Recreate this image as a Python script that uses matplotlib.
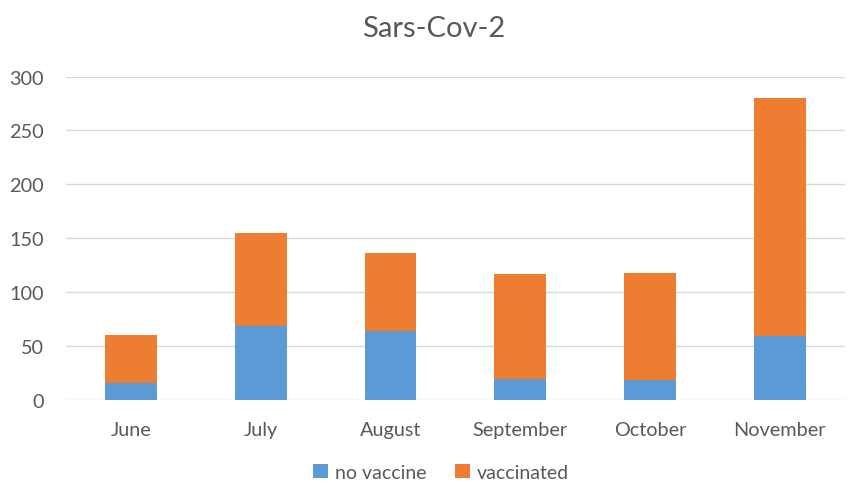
import matplotlib
matplotlib.use("Agg")
import matplotlib.pyplot as plt
import numpy as np

plt.rcParams['font.family'] = ['Lato', 'DejaVu Sans']

months = ['June', 'July', 'August', 'September', 'October', 'November']
no_vaccine = [15, 68, 64, 19, 18, 59]
vaccinated_total = [60, 155, 136, 117, 118, 280]
vaccinated = [t - n for t, n in zip(vaccinated_total, no_vaccine)]

fig = plt.figure(figsize=(8.48, 4.85), dpi=100)
ax = fig.add_axes([0.078, 0.174, 0.918, 0.666])

x = np.arange(len(months))
ax.bar(x, no_vaccine, width=0.4, color='#5B9BD5', label='no vaccine', zorder=3)
ax.bar(x, vaccinated, width=0.4, bottom=no_vaccine, color='#ED7D31',
       label='vaccinated', zorder=3)

ax.set_xlim(-0.5, len(months) - 0.5)
ax.set_ylim(0, 300)
ax.set_yticks(range(0, 301, 50))
ax.set_xticks(x)
ax.set_xticklabels(months)
ax.yaxis.grid(True, color='#d9d9d9', lw=1.0, zorder=0)
for s in ax.spines.values():
    s.set_visible(False)
ax.tick_params(axis='both', length=0, labelsize=14.3, colors='#595959')
ax.tick_params(axis='y', pad=16)
ax.tick_params(axis='x', pad=15.5)

fig.text(0.511, 0.94, 'Sars-Cov-2', ha='center', va='center', fontsize=21, color='#595959')
fig.legend(loc='center', bbox_to_anchor=(0.52, 0.024), ncol=2, frameon=False,
           fontsize=14, labelcolor='#595959', handlelength=0.75, handleheight=0.75,
           handletextpad=0.35, columnspacing=1.5, borderpad=0.2)

fig.savefig('out.png', dpi=100)
